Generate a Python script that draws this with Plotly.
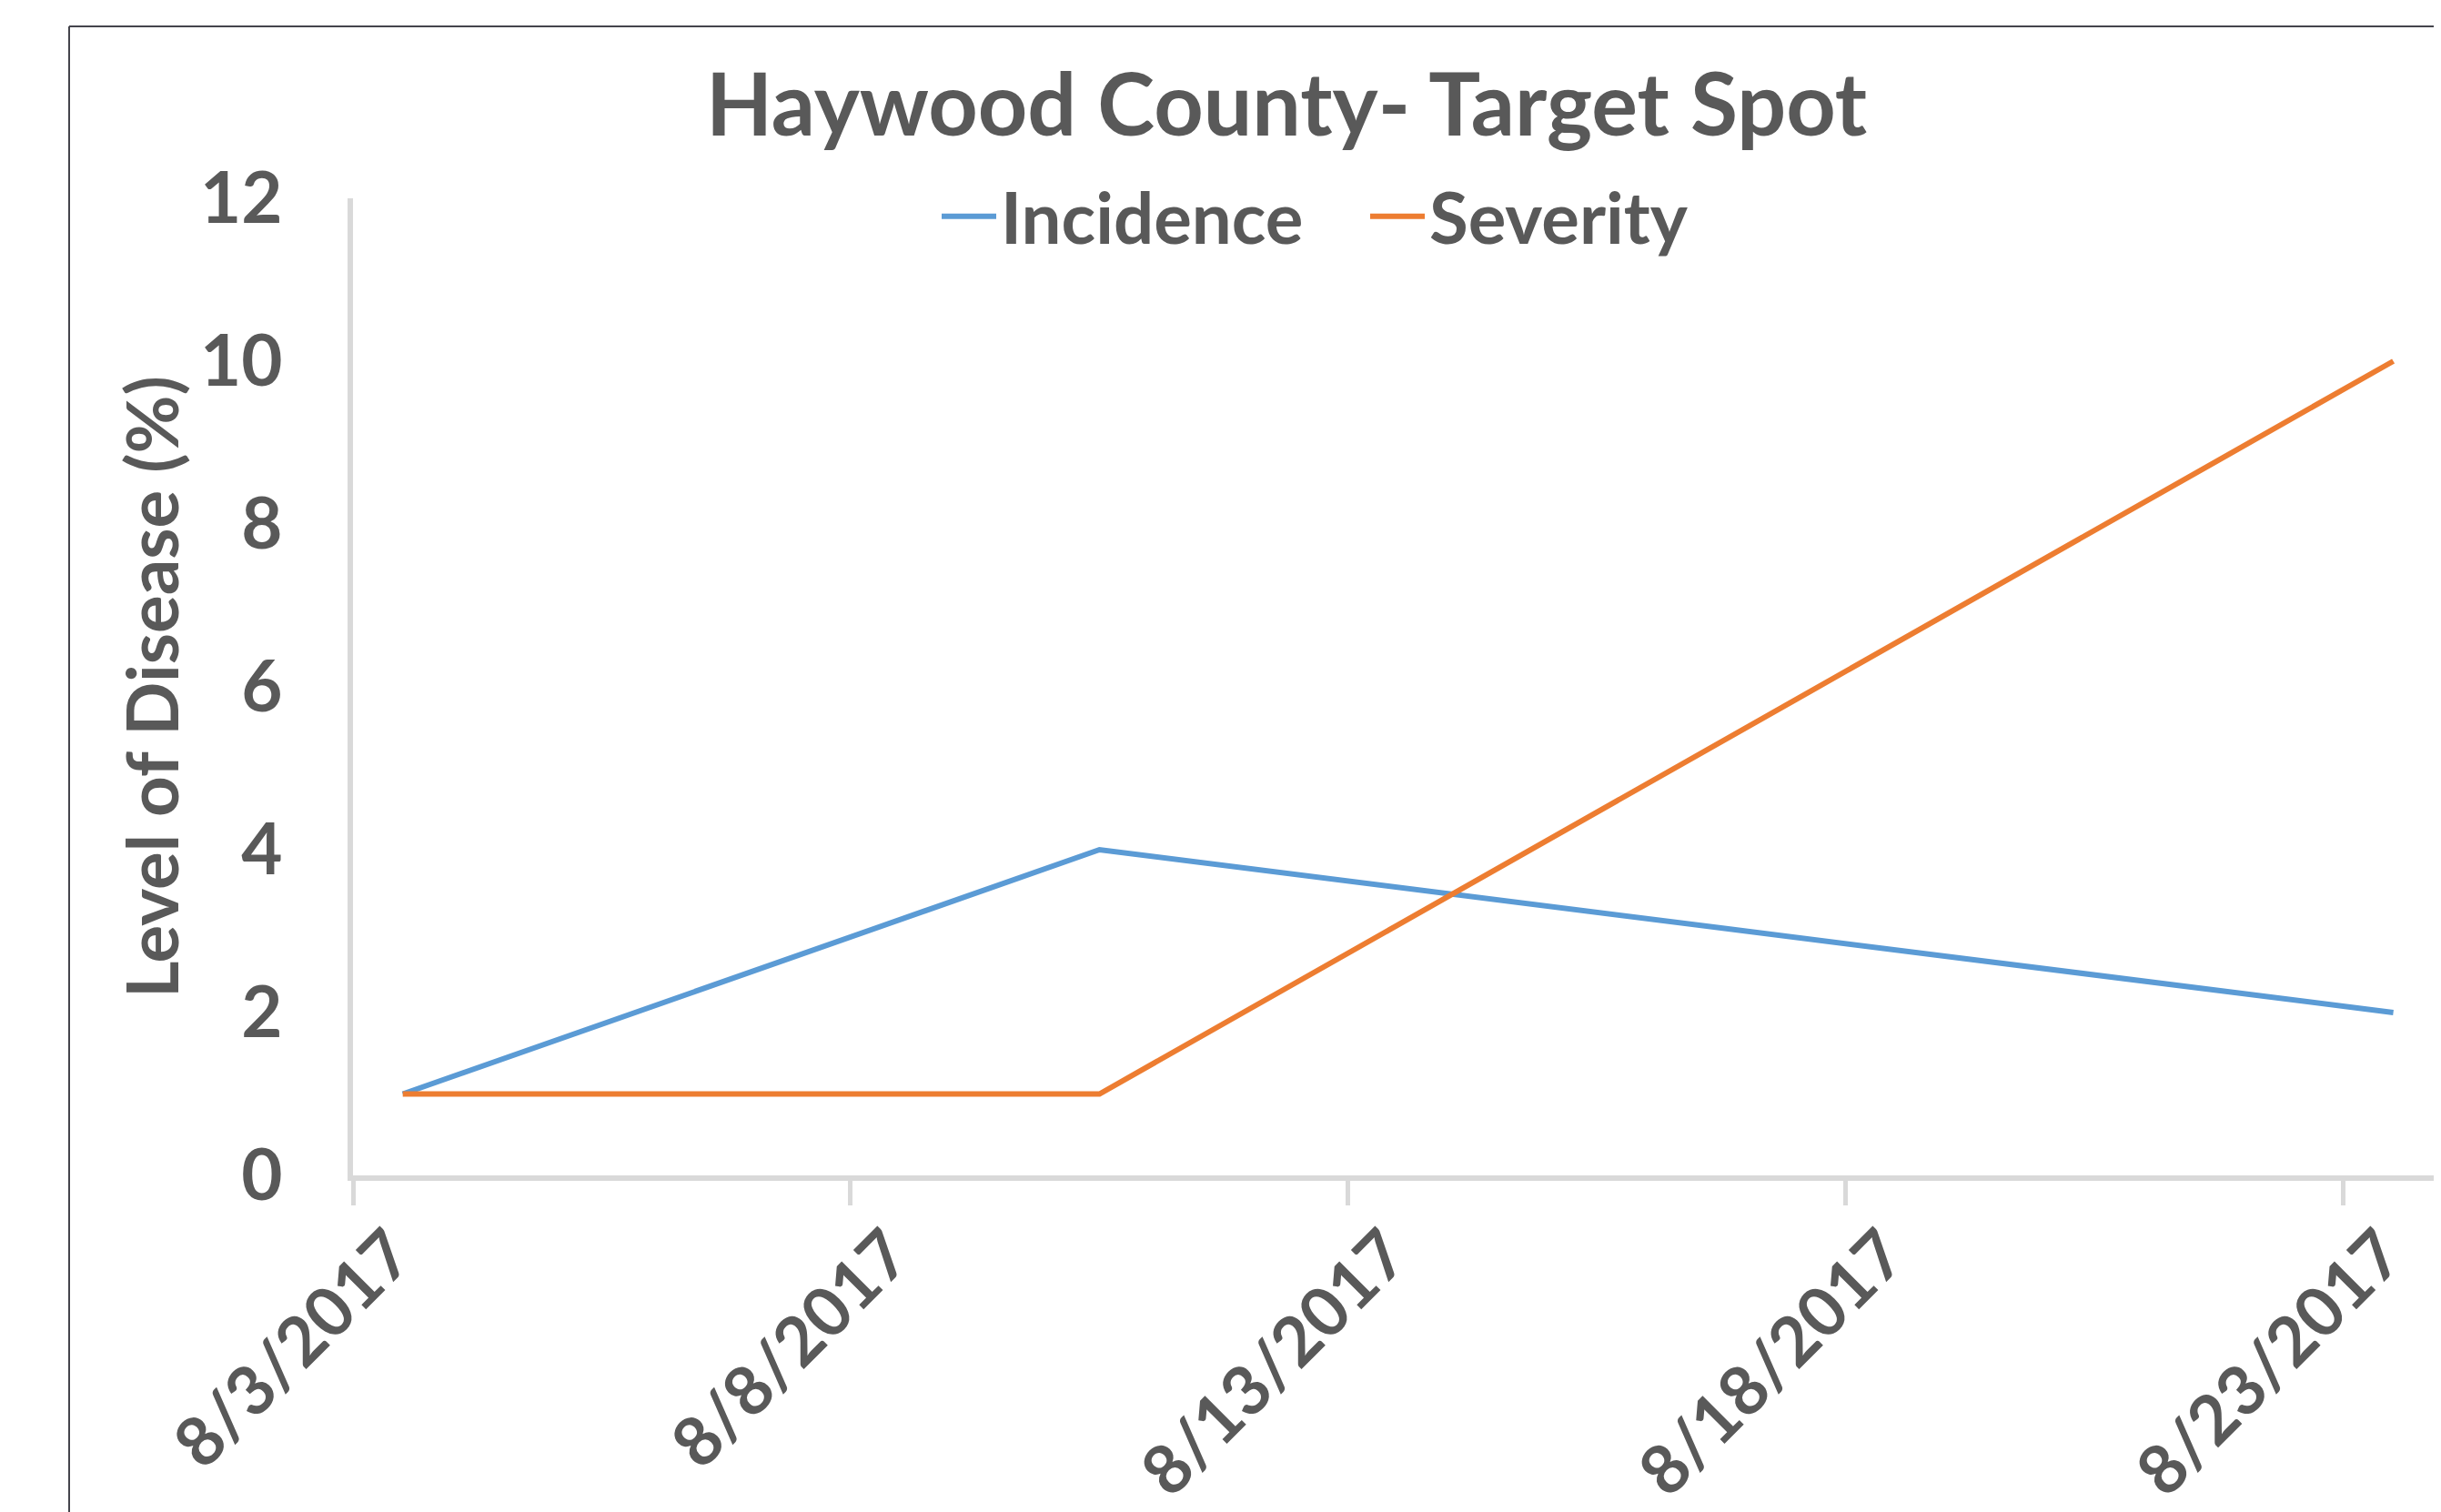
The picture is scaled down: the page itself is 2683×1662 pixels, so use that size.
import plotly.graph_objects as go

# ---- data ----
dates = ["2017-08-03", "2017-08-10", "2017-08-23"]
incidence = [1, 4, 2]
severity = [1, 1, 10]
series_names = ["Incidence", "Severity"]
title_text = "Haywood County- Target Spot"
y_title = "Level of Disease (%)"
y_ticks = [0, 2, 4, 6, 8, 10, 12]
x_ticks = ["2017-08-03", "2017-08-08", "2017-08-13", "2017-08-18", "2017-08-23"]

# page body has an 8px margin, so the figure is sized to fit the window
W, H = 2675, 1654
ML, MR, MT, MB = 380, 0, 210, 370
TXT = "#595959"
AX = "#D9D9D9"
FONT = "Lato"

fig = go.Figure()
for name, vals, col in [(series_names[0], incidence, "#5B9BD5"),
                        (series_names[1], severity, "#ED7D31")]:
    fig.add_trace(go.Scatter(
        x=dates, y=vals, name=name, mode="lines",
        line=dict(color=col, width=6),
        xperiod=86400000, xperiodalignment="middle",
    ))

pw = W - ML - MR
ph = H - MT - MB
bx = (68 - ML) / pw
by = (H - MB - 21) / ph

fig.update_layout(
    width=W, height=H,
    margin=dict(l=ML, r=MR, t=MT, b=MB, autoexpand=False),
    paper_bgcolor="white", plot_bgcolor="white",
    font=dict(family=FONT, color=TXT, size=78, weight="bold"),
    title=dict(text=title_text, x=1406 / W, xanchor="center", xref="container",
               y=1 - 108 / H, yanchor="middle", yref="container",
               font=dict(family=FONT, size=95, color=TXT, weight="bold")),
    legend=dict(orientation="h", x=(1022 - ML) / pw, xanchor="left",
                y=(H - MB - 230) / ph, yanchor="middle",
                font=dict(family=FONT, size=78, color=TXT, weight="bold"),
                bgcolor="rgba(0,0,0,0)", itemwidth=60,
                entrywidth=396, entrywidthmode="pixels"),
    showlegend=True,
    shapes=[
        dict(type="line", xref="paper", yref="paper", x0=bx, x1=bx, y0=-1, y1=by,
             line=dict(color="#44444c", width=2)),
        dict(type="line", xref="paper", yref="paper", x0=bx, x1=1.2, y0=by, y1=by,
             line=dict(color="#44444c", width=2)),
    ],
    annotations=[
        dict(text=y_title, textangle=-90, xref="paper", yref="paper",
             x=(158 - ML) / pw, y=0.5, xanchor="center", yanchor="middle",
             showarrow=False,
             font=dict(family=FONT, size=78, color=TXT, weight="bold")),
    ],
)

fig.update_xaxes(
    type="date",
    range=["2017-08-03", "2017-08-23 23:30"],
    tickvals=x_ticks, tickformat="%-m/%-d/%Y", tickangle=-45,
    showgrid=False, zeroline=False,
    showline=True, linecolor=AX, linewidth=6,
    ticks="outside", ticklen=27, tickwidth=5, tickcolor=AX,
    ticklabelshift=43, ticklabelstandoff=-20,
    tickfont=dict(family=FONT, size=75, color=TXT, weight="bold"),
)
fig.update_yaxes(
    range=[0, 12], tickvals=y_ticks,
    showgrid=False, zeroline=False,
    showline=True, linecolor=AX, linewidth=6,
    ticks="", ticklabelstandoff=56,
    tickfont=dict(family=FONT, size=78, color=TXT, weight="bold"),
)

fig.write_html("out.html")
